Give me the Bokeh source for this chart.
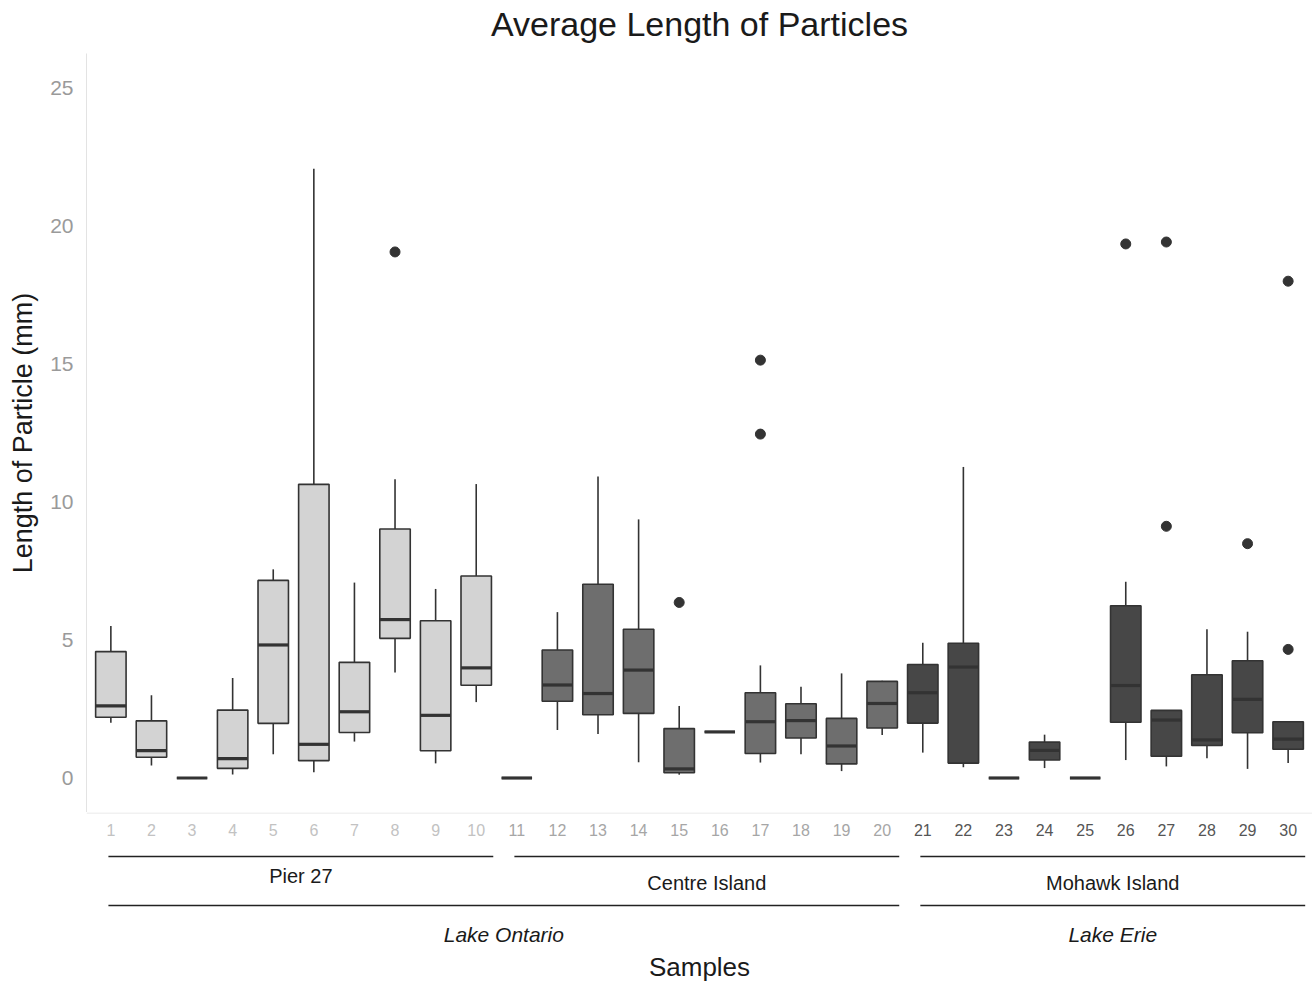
from bokeh.plotting import figure
from bokeh.models import ColumnDataSource, Range1d, FixedTicker, Span
from bokeh.layouts import column
from bokeh.embed import file_html
from bokeh.resources import INLINE
from bokeh.core.properties import value

FONT = "Liberation Sans"

# ---------------- data ----------------
title_text = "Average Length of Particles"
samples = list(range(1, 31))
sites = ["Pier 27"] * 10 + ["Centre Island"] * 10 + ["Mohawk Island"] * 10
site_names = ["Pier 27", "Centre Island", "Mohawk Island"]
lakes = ["Lake Ontario", "Lake Erie"]
lake_sites = {"Lake Ontario": ["Pier 27", "Centre Island"], "Lake Erie": ["Mohawk Island"]}

lower = [2.00, 0.45, 0.00, 0.13, 0.86, 0.21, 1.32, 3.82, 0.53, 2.75,
         0.00, 1.74, 1.59, 0.57, 0.12, 1.67, 0.56, 0.86, 0.25, 1.56,
         0.92, 0.39, 0.00, 0.36, 0.00, 0.65, 0.42, 0.72, 0.33, 0.54]
q1 = [2.20, 0.75, 0.00, 0.35, 1.98, 0.63, 1.65, 5.06, 0.99, 3.36,
      0.00, 2.78, 2.29, 2.34, 0.19, 1.67, 0.89, 1.45, 0.51, 1.81,
      1.99, 0.54, 0.00, 0.65, 0.00, 2.02, 0.79, 1.18, 1.64, 1.04]
median = [2.61, 0.99, 0.00, 0.70, 4.82, 1.22, 2.40, 5.74, 2.27, 3.99,
          0.00, 3.37, 3.06, 3.91, 0.33, 1.67, 2.04, 2.08, 1.16, 2.70,
          3.09, 4.02, 0.00, 1.00, 0.00, 3.35, 2.10, 1.38, 2.85, 1.41]
q3 = [4.58, 2.07, 0.00, 2.46, 7.16, 10.64, 4.19, 9.02, 5.70, 7.32,
      0.00, 4.64, 7.02, 5.39, 1.79, 1.67, 3.09, 2.69, 2.16, 3.50,
      4.11, 4.88, 0.00, 1.30, 0.00, 6.24, 2.45, 3.74, 4.25, 2.04]
upper = [5.51, 3.00, 0.00, 3.62, 7.56, 22.07, 7.08, 10.82, 6.85, 10.65,
         0.00, 6.01, 10.92, 9.37, 2.61, 1.67, 4.08, 3.31, 3.79, 3.52,
         4.90, 11.27, 0.00, 1.57, 0.00, 7.11, 2.45, 5.39, 5.30, 2.04]

outlier_sample = [8, 15, 17, 17, 26, 27, 27, 29, 30, 30]
outlier_value = [19.06, 6.36, 12.46, 15.14, 19.35, 9.12, 19.42, 8.49, 4.66, 18.00]

y_ticks = [0, 5, 10, 15, 20, 25]

# ---------------- styles ----------------
site_fill = {"Pier 27": "#d3d3d3", "Centre Island": "#6e6e6e", "Mohawk Island": "#474747"}
site_tick_color = {"Pier 27": "#c2c2c2", "Centre Island": "#a6a6a6", "Mohawk Island": "#555555"}
EDGE = "#333333"
BOX_W = 0.75
W = 1312
LEFT = 86


def bare(fig):
    fig.axis.visible = False
    fig.xgrid.visible = False
    fig.ygrid.visible = False
    fig.outline_line_color = None
    fig.background_fill_color = "white"
    fig.border_fill_color = "white"


src = ColumnDataSource(dict(
    x=samples, lower=lower, q1=q1, median=median, q3=q3, upper=upper,
    fill=[site_fill[s] for s in sites],
))

x_range = Range1d(0.4, 30.6)
x_mid = (x_range.start + x_range.end) / 2

# ---------------- title strip ----------------
h = figure(width=W, height=53, x_range=x_range, y_range=Range1d(53, 0),
           output_backend="svg", toolbar_location=None,
           min_border_left=LEFT, min_border_right=0, min_border_bottom=0, min_border_top=0)
bare(h)
h.text(x=[x_mid], y=[23], text=[title_text], text_color="#1a1a1a",
       text_font=value(FONT), text_font_size="34px",
       text_align="center", text_baseline="middle")

# ---------------- main panel ----------------
p = figure(width=W, height=759, x_range=x_range, y_range=Range1d(-1.25, 26.25),
           output_backend="svg", toolbar_location=None,
           min_border_left=LEFT, min_border_right=0, min_border_bottom=0, min_border_top=0)
p.xaxis.visible = False
p.xgrid.visible = False
p.ygrid.visible = False
p.outline_line_color = None
p.background_fill_color = "white"
p.border_fill_color = "white"

yax = p.yaxis[0]
yax.ticker = FixedTicker(ticks=y_ticks)
yax.axis_line_color = "#e3e3e3"
yax.axis_line_width = 1
yax.major_tick_line_color = None
yax.minor_tick_line_color = None
yax.major_label_text_font = FONT
yax.major_label_text_font_size = "21px"
yax.major_label_text_color = "#9a9a9a"
yax.major_label_standoff = 7
yax.axis_label = "Length of Particle (mm)"
yax.axis_label_text_font = FONT
yax.axis_label_text_font_size = "27px"
yax.axis_label_text_font_style = "normal"
yax.axis_label_text_color = "#1a1a1a"
yax.axis_label_standoff = 9

# whiskers
p.segment(x0="x", y0="q3", x1="x", y1="upper", source=src, line_color=EDGE, line_width=1.6)
p.segment(x0="x", y0="q1", x1="x", y1="lower", source=src, line_color=EDGE, line_width=1.6)
# boxes
p.vbar(x="x", width=BOX_W, bottom="q1", top="q3", source=src,
       fill_color="fill", line_color=EDGE, line_width=1.6)
# medians
p.rect(x="x", y="median", width=BOX_W, height=3.2, height_units="screen", source=src,
       fill_color=EDGE, line_color=None)
# outliers
p.scatter(x=outlier_sample, y=outlier_value, size=10, marker="circle",
          fill_color=EDGE, line_color=EDGE)

# ---------------- lower annotation panel ----------------
q = figure(width=W, height=170, x_range=x_range, y_range=Range1d(170, 0),
           output_backend="svg", toolbar_location=None,
           min_border_left=LEFT, min_border_right=0, min_border_bottom=0, min_border_top=0)
bare(q)
q.add_layout(Span(location=0.5, dimension="width", line_color="#e3e3e3", line_width=1))

q.text(x=samples, y=[17] * len(samples), text=[str(s) for s in samples],
       text_color=[site_tick_color[s] for s in sites],
       text_font=value(FONT), text_font_size="16px",
       text_align="center", text_baseline="middle")


def span_of(names):
    xs = [x for x, s in zip(samples, sites) if s in names]
    return min(xs) - 0.06, max(xs) + 0.42


site_x0, site_x1, site_mid = [], [], []
for s in site_names:
    a, b = span_of([s])
    site_x0.append(a); site_x1.append(b); site_mid.append((a + b) / 2)
q.segment(x0=site_x0, x1=site_x1, y0=[44] * 3, y1=[44] * 3, line_color="#222222", line_width=1.4)
q.text(x=site_mid, y=[63, 70, 70], text=site_names, text_color="#1a1a1a",
       text_font=value(FONT), text_font_size="20px",
       text_align="center", text_baseline="middle")

lake_x0, lake_x1, lake_mid = [], [], []
for lk in lakes:
    a, b = span_of(lake_sites[lk])
    lake_x0.append(a); lake_x1.append(b); lake_mid.append((a + b) / 2)
q.segment(x0=lake_x0, x1=lake_x1, y0=[93] * 2, y1=[93] * 2, line_color="#222222", line_width=1.4)
q.text(x=lake_mid, y=[122] * 2, text=lakes, text_color="#1a1a1a",
       text_font=value(FONT), text_font_size="21px", text_font_style="italic",
       text_align="center", text_baseline="middle")

q.text(x=[x_mid], y=[154], text=["Samples"], text_color="#1a1a1a",
       text_font=value(FONT), text_font_size="26px",
       text_align="center", text_baseline="middle")

layout = column(h, p, q, spacing=0)
open("out.html", "w").write(file_html(layout, INLINE))
